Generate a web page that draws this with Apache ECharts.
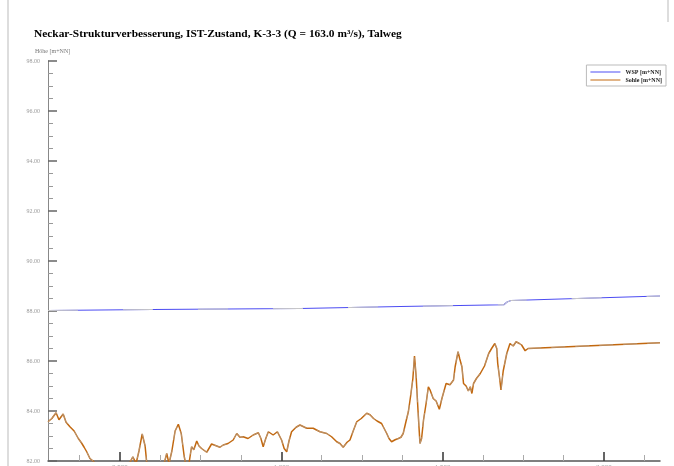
<!DOCTYPE html>
<html>
<head>
<meta charset="utf-8">
<title>Neckar Talweg</title>
<script src="https://cdn.jsdelivr.net/npm/echarts@6/dist/echarts.min.js"></script>
<style>
  html, body { margin: 0; padding: 0; background: #fff; }
  #chart { width: 674px; height: 466px; }
</style>
</head>
<body>
<div id="chart"></div>
<script>
// Längsschnitt Talweg, Station in km, Höhen in m+NN
const titleText = 'Neckar-Strukturverbesserung, IST-Zustand, K-3-3 (Q = 163.0 m³/s), Talweg';
const xMin = 0.277;
const xMax = 2.174;
const xMajorTicks = [0.5, 1.0, 1.5, 2.0];
const xMinorTicks = [0.375, 0.625, 0.75, 0.875, 1.125, 1.25, 1.375, 1.625, 1.75, 1.875, 2.125];
const yMin = 82;
const yMax = 98;
const yStep = 2;

// Wasserspiegel
const wspStation = [0.277, 0.6, 1.058, 1.37, 1.69, 1.70, 1.712, 2.174];
const wspHeight = [88.02, 88.06, 88.1, 88.18, 88.25, 88.36, 88.42, 88.6];

// Sohle
const sohleStation = [
  0.277, 0.289, 0.302, 0.311, 0.324, 0.333, 0.345, 0.358, 0.371, 0.381,
  0.389, 0.397, 0.407, 0.417, 0.429, 0.469, 0.525, 0.540, 0.550, 0.559,
  0.569, 0.578, 0.584, 0.624, 0.637, 0.645, 0.652, 0.661, 0.671, 0.681,
  0.690, 0.699, 0.705, 0.714, 0.722, 0.729, 0.738, 0.745, 0.753, 0.769,
  0.784, 0.800, 0.810, 0.820, 0.835, 0.851, 0.862, 0.872, 0.882, 0.897,
  0.913, 0.929, 0.937, 0.944, 0.952, 0.960, 0.975, 0.988, 1.001, 1.009,
  1.017, 1.024, 1.032, 1.046, 1.058, 1.079, 1.099, 1.120, 1.141, 1.156,
  1.172, 1.182, 1.192, 1.204, 1.213, 1.223, 1.234, 1.248, 1.265, 1.275,
  1.286, 1.297, 1.311, 1.319, 1.327, 1.334, 1.342, 1.353, 1.363, 1.371,
  1.378, 1.387, 1.394, 1.401, 1.408, 1.413, 1.418, 1.424, 1.430, 1.435,
  1.441, 1.449, 1.456, 1.461, 1.471, 1.480, 1.490, 1.498, 1.511, 1.523,
  1.534, 1.539, 1.548, 1.553, 1.560, 1.565, 1.573, 1.580, 1.586, 1.591,
  1.596, 1.605, 1.617, 1.630, 1.643, 1.652, 1.662, 1.668, 1.671, 1.677,
  1.681, 1.688, 1.699, 1.709, 1.719, 1.728, 1.738, 1.745, 1.756, 1.765,
  1.771, 2.174
];
const sohleHeight = [
  83.57, 83.7, 83.93, 83.65, 83.88, 83.55, 83.37, 83.2, 82.9, 82.72,
  82.55, 82.37, 82.1, 82.0, 81.8, 81.7, 81.8, 82.17, 81.9, 82.4,
  83.08, 82.6, 81.8, 81.8, 81.9, 82.3, 81.9, 82.4, 83.2, 83.47,
  83.1, 82.2, 81.8, 81.9, 82.57, 82.45, 82.8, 82.6, 82.5, 82.35,
  82.68, 82.6, 82.55, 82.64, 82.7, 82.84, 83.1, 82.95, 82.97, 82.9,
  83.04, 83.13, 82.9, 82.57, 82.9, 83.17, 83.04, 83.17, 82.84, 82.5,
  82.37, 82.8, 83.17, 83.35, 83.44, 83.31, 83.31, 83.17, 83.1, 82.97,
  82.77, 82.7, 82.55, 82.75, 82.84, 83.2, 83.57, 83.7, 83.91, 83.85,
  83.7, 83.6, 83.5, 83.3, 83.1, 82.9, 82.77, 82.85, 82.9, 82.95,
  83.1, 83.6, 83.97, 84.6, 85.3, 86.2, 85.4, 84.0, 82.7, 82.9,
  83.64, 84.3, 84.97, 84.85, 84.5, 84.4, 84.07, 84.5, 85.1, 85.05,
  85.24, 85.77, 86.37, 86.1, 85.77, 85.1, 85.0, 84.8, 84.97, 84.7,
  85.1, 85.3, 85.5, 85.8, 86.3, 86.5, 86.7, 86.5, 85.9, 85.3,
  84.84, 85.6, 86.3, 86.7, 86.6, 86.77, 86.7, 86.64, 86.41, 86.5,
  86.55, 86.73
];

const serif = '"Liberation Serif", "DejaVu Serif", serif';
const wspColor = '#4c4cf2';
const sohleColor = '#c2680f';

function pairs(xs, ys) {
    return xs.map((x, i) => [x, ys[i]]);
}

const chart = echarts.init(document.getElementById('chart'));

chart.setOption({
    animation: false,
    title: {
        text: titleText,
        left: 29,
        top: 24,
        textStyle: { fontFamily: serif, fontSize: 11.4, fontWeight: 'bold', color: '#000' }
    },
    legend: {
        orient: 'vertical',
        right: 8,
        top: 65,
        data: ['WSP [m+NN]', 'Sohle [m+NN]'],
        icon: 'rect',
        itemWidth: 30,
        itemHeight: 1,
        itemGap: 2,
        padding: [4, 4, 3, 4],
        borderColor: '#bbb',
        borderWidth: 1,
        textStyle: { fontFamily: serif, fontSize: 6, fontWeight: 'bold', color: '#222' }
    },
    grid: { left: 48, right: 14, top: 61, bottom: 5, outerBoundsMode: 'none', containLabel: false },
    xAxis: [
        {
            type: 'value',
            min: xMin,
            max: xMax,
            axisLine: { lineStyle: { color: '#555', width: 1.5 } },
            axisTick: {
                inside: true, length: 9, customValues: xMajorTicks,
                lineStyle: { color: '#333', width: 1.5 }
            },
            axisLabel: {
                customValues: xMajorTicks,
                margin: 3,
                fontFamily: serif, fontSize: 7, color: '#999',
                formatter: v => v.toFixed(3)
            },
            splitLine: { show: false }
        },
        {
            type: 'value',
            min: xMin,
            max: xMax,
            position: 'bottom',
            axisLine: { show: false },
            axisTick: {
                inside: true, length: 6, customValues: xMinorTicks,
                lineStyle: { color: '#aaa', width: 1 }
            },
            axisLabel: { show: false },
            splitLine: { show: false }
        }
    ],
    yAxis: {
        type: 'value',
        min: yMin,
        max: yMax,
        interval: yStep,
        axisLine: { show: true, lineStyle: { color: '#888', width: 1 } },
        axisTick: { show: true, inside: true, length: 9, lineStyle: { color: '#666', width: 1.5 } },
        minorTick: { show: true, splitNumber: 4, length: 5, lineStyle: { color: '#999' } },
        axisLabel: {
            margin: 8, fontFamily: serif, fontSize: 6, color: '#999',
            formatter: v => v.toFixed(2)
        },
        splitLine: { show: false }
    },
    graphic: [
        { type: 'text', left: 35, top: 48,
          style: { text: 'Höhe [m+NN]', font: '6px ' + serif, fill: '#777' } },
        { type: 'line', shape: { x1: 8, y1: 0, x2: 8, y2: 466 },
          style: { stroke: '#bbb', lineWidth: 1 } },
        { type: 'line', shape: { x1: 668, y1: 0, x2: 668, y2: 22 },
          style: { stroke: '#bbb', lineWidth: 1 } }
    ],
    series: [
        {
            name: 'WSP [m+NN]',
            type: 'line',
            data: pairs(wspStation, wspHeight),
            showSymbol: false,
            lineStyle: { color: wspColor, width: 1.2 },
            itemStyle: { color: wspColor }
        },
        {
            name: 'wsp-overlay',
            type: 'line',
            data: pairs(wspStation, wspHeight),
            showSymbol: false,
            silent: true,
            lineStyle: { color: '#c8c8c8', width: 1, type: [30, 45] }
        },
        {
            name: 'Sohle [m+NN]',
            type: 'line',
            data: pairs(sohleStation, sohleHeight),
            showSymbol: false,
            clip: true,
            lineStyle: { color: sohleColor, width: 1.5 },
            itemStyle: { color: sohleColor }
        },
        {
            name: 'sohle-overlay',
            type: 'line',
            data: pairs(sohleStation, sohleHeight),
            showSymbol: false,
            silent: true,
            clip: true,
            lineStyle: { color: '#b0b0b0', width: 0.6, type: [14, 10] }
        }
    ]
});
</script>
</body>
</html>
